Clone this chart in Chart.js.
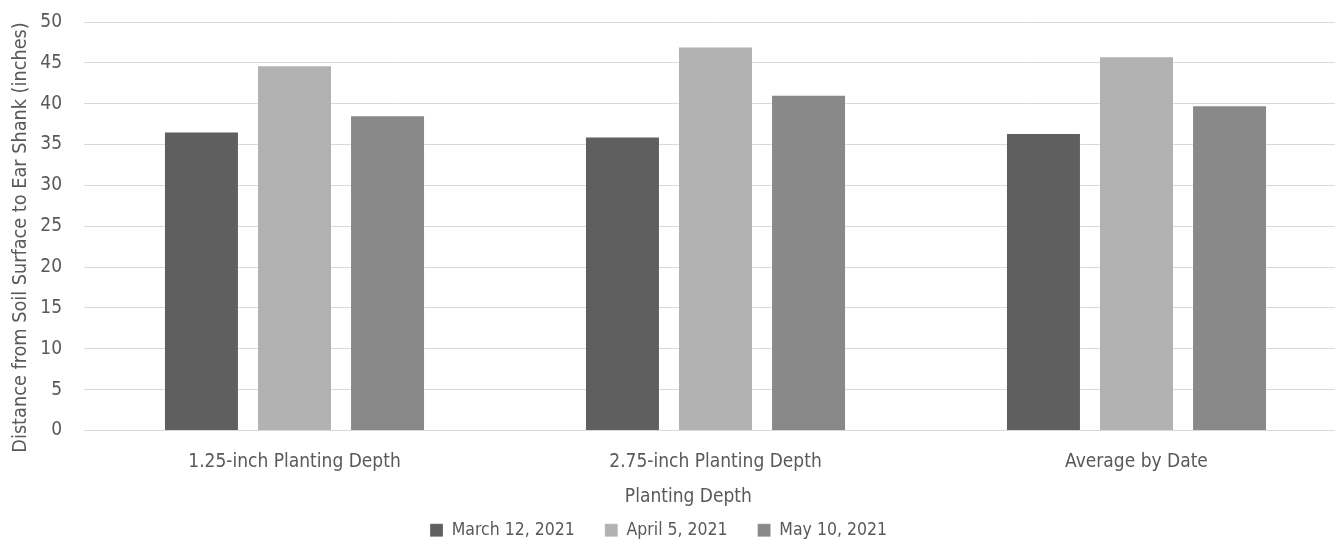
<!DOCTYPE html>
<html>
<head>
<meta charset="utf-8">
<script src="https://cdn.jsdelivr.net/npm/chart.js@4/dist/chart.umd.min.js"></script>
<style>
  html, body { margin: 0; padding: 0; background: #fff; overflow: hidden; }
  #wrap { width: 1348px; height: 554px; position: relative; }
</style>
</head>
<body>
<div id="wrap"><canvas id="chart"></canvas></div>
<script>
// Height from soil surface to ear shank, by planting depth and planting date
const categories = ['1.25-inch Planting Depth', '2.75-inch Planting Depth', 'Average by Date'];
const seriesNames = ['March 12, 2021', 'April 5, 2021', 'May 10, 2021'];
const march12 = [36.6, 36.0, 36.4];
const april5 = [44.7, 47.0, 45.8];
const may10 = [38.6, 41.1, 39.8];
const yTicks = [0, 5, 10, 15, 20, 25, 30, 35, 40, 45, 50];

const colors = ['#5f5f5f', '#b2b2b2', '#898989'];
const textColor = '#595959';
const fontFamily = '"Liberation Sans Narrow", "DejaVu Sans Condensed", "Arial Narrow", sans-serif';

const seriesValues = [march12, april5, may10];
const datasets = seriesNames.map((name, i) => ({
  label: name,
  data: seriesValues[i],
  backgroundColor: colors[i],
  borderColor: 'rgba(255,255,255,0.25)',
  borderWidth: 1,
  categoryPercentage: 0.663,
  barPercentage: 0.806
}));

new Chart(document.getElementById('chart'), {
  type: 'bar',
  data: { labels: categories, datasets },
  options: {
    responsive: true,
    maintainAspectRatio: false,
    animation: false,
    layout: { padding: { top: 22, right: 1, left: 0, bottom: 5 } },
    plugins: {
      legend: {
        position: 'bottom',
        labels: {
          color: textColor,
          font: { family: fontFamily, size: 17.5 },
          boxWidth: 13,
          boxHeight: 13,
          padding: 30,
          generateLabels: (chart) => {
            const items = Chart.defaults.plugins.legend.labels.generateLabels(chart);
            // trailing gap keeps the row centred under the page rather than the wider canvas
            items[items.length - 1].text += '      ';
            return items;
          }
        }
      },
      tooltip: { enabled: false }
    },
    scales: {
      x: {
        afterFit: (scale) => { scale.height = 61; },
        grid: { display: false },
        border: { display: true, color: '#d9d9d9' },
        ticks: { color: textColor, font: { family: fontFamily, size: 19 }, padding: 12 },
        title: {
          display: true,
          text: 'Planting Depth' + '          ',
          color: textColor,
          font: { family: fontFamily, size: 19 },
          padding: { top: 0, bottom: -17 }
        }
      },
      y: {
        min: 0,
        max: 50,
        afterBuildTicks: (scale) => { scale.ticks = yTicks.map(v => ({ value: v })); },
        afterFit: (scale) => {
          scale.width = 84;
          scale.paddingTop = 0;
          scale.paddingBottom = 0;
        },
        grid: { color: '#d9d9d9', drawTicks: false },
        border: { display: false },
        ticks: { color: textColor, font: { family: fontFamily, size: 19 }, padding: 22 },
        title: {
          display: true,
          text: 'Distance from Soil Surface to Ear Shank (inches)' + '    ',
          color: textColor,
          font: { family: fontFamily, size: 19.7 },
          padding: { top: 9, bottom: 0 }
        }
      }
    }
  }
});
</script>
</body>
</html>
